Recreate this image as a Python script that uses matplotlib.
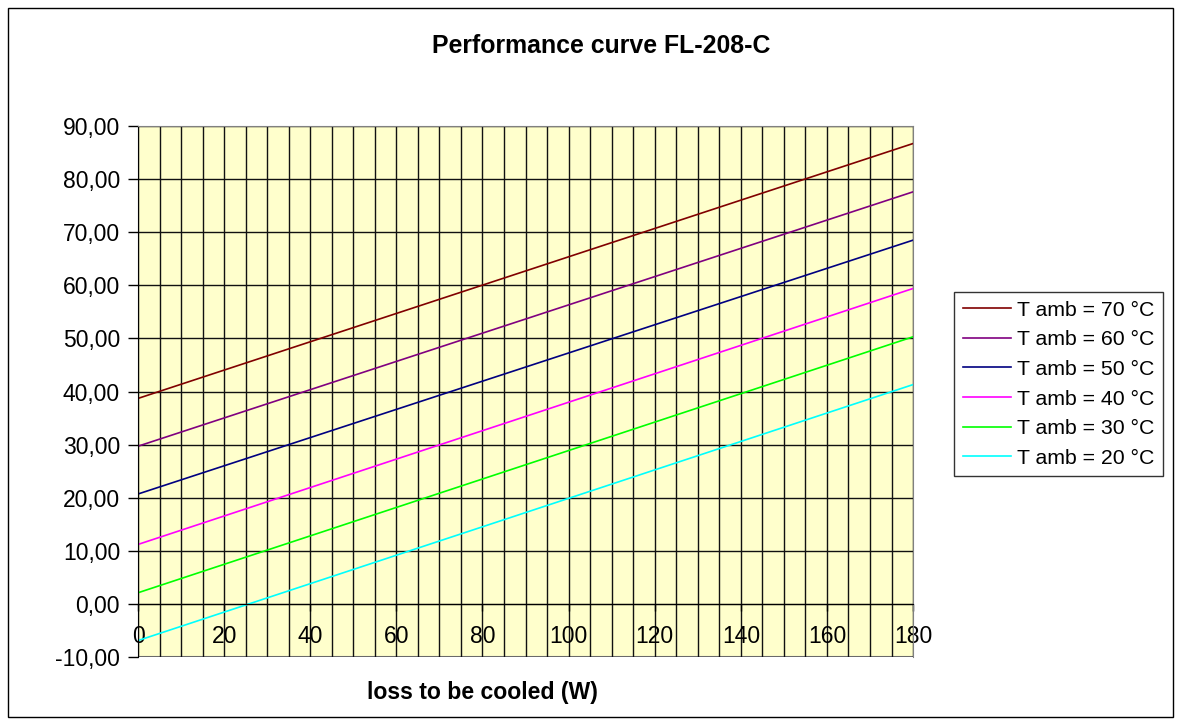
import matplotlib
matplotlib.use("Agg")
import matplotlib.pyplot as plt
from matplotlib.patches import Rectangle
from matplotlib.ticker import MultipleLocator, FuncFormatter

plt.rcParams['font.family'] = ['Liberation Sans', 'DejaVu Sans']

# data
loss_w = [0, 180]
labels = ['T amb = 70 °C', 'T amb = 60 °C', 'T amb = 50 °C',
          'T amb = 40 °C', 'T amb = 30 °C', 'T amb = 20 °C']
t70 = [38.7, 86.7]
t60 = [29.7, 77.6]
t50 = [20.7, 68.5]
t40 = [11.2, 59.4]
t30 = [2.1, 50.3]
t20 = [-6.9, 41.3]
colors = ['#800000', '#800080', '#000080', '#FF00FF', '#00FF00', '#00FFFF']

fig = plt.figure(figsize=(11.81, 7.25), dpi=100)
fig.patches.append(Rectangle((0.007, 0.011), 0.986, 0.978, transform=fig.transFigure,
                             fill=False, edgecolor='black', linewidth=1))

ax = fig.add_axes([0.1169, 0.0938, 0.6562, 0.7324])
ax.set_facecolor('#FFFFCC')

for ys, lab, c in zip([t70, t60, t50, t40, t30, t20], labels, colors):
    ax.plot(loss_w, ys, color=c, linewidth=1.2, label=lab)

ax.set_xlim(0, 180)
ax.set_ylim(-10, 90)
ax.xaxis.set_major_locator(MultipleLocator(20))
ax.xaxis.set_minor_locator(MultipleLocator(5))
ax.yaxis.set_major_locator(MultipleLocator(10))
ax.yaxis.set_major_formatter(FuncFormatter(lambda v, p: f'{v:.2f}'.replace('.', ',')))

ax.grid(which='minor', axis='x', color='#111111', linewidth=1)
ax.grid(which='major', axis='x', color='#111111', linewidth=1)
ax.grid(which='major', axis='y', color='#111111', linewidth=1)
ax.set_axisbelow(True)

ax.spines['bottom'].set_position(('data', 0))
ax.spines['bottom'].set_color('black')
ax.spines['left'].set_color('black')
ax.spines['top'].set_color('#808080')
ax.spines['right'].set_color('#808080')
ax.axhline(-10, color='#808080', linewidth=1.5, zorder=0.5)

ax.tick_params(axis='y', which='major', direction='out', length=7, width=1,
               labelsize=16.5, pad=6)
ax.tick_params(axis='x', which='major', direction='out', length=5, width=1,
               labelsize=16.5, pad=10)
ax.tick_params(axis='x', which='minor', length=0)

fig.text(0.4086, 0.045, 'loss to be cooled (W)', fontsize=16.6, fontweight='bold',
         ha='center', va='center')
fig.text(0.509, 0.937, 'Performance curve FL-208-C', fontsize=17.9, fontweight='bold',
         ha='center', va='center')

leg = ax.legend(loc='upper left', bbox_to_anchor=(0.8078, 0.597), bbox_transform=fig.transFigure,
                fontsize=15.3, frameon=True, fancybox=False, edgecolor='black',
                handlelength=2.3, handletextpad=0.28, labelspacing=0.5, borderpad=0.4,
                borderaxespad=0)
leg.get_frame().set_linewidth(1)

fig.savefig('out.png', dpi=100)
